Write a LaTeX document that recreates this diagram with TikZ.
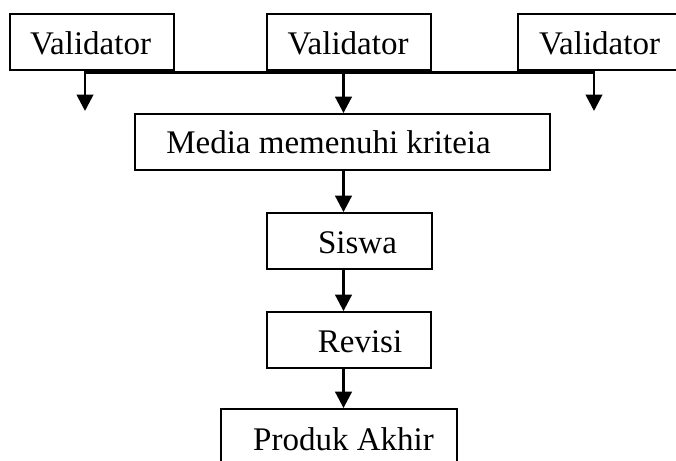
\documentclass[tikz,border=0pt]{standalone}
\usepackage{fontspec}
\setmainfont{Liberation Serif}
\usetikzlibrary{arrows.meta,calc}
\begin{document}
\begin{tikzpicture}[x=1pt,y=-1pt,
  box/.style={draw,line width=1.8pt,minimum height=56pt,inner sep=0pt},
  txt/.style={anchor=base,inner sep=0pt,font=\fontsize{33}{40}\selectfont},
  arr/.style={line width=2.8pt,-{Triangle[width=16.5pt,length=16.5pt]}},
  hline/.style={line width=2.2pt,line cap=rect}]
\clip (0,0) rectangle (676,460);
% boxes
\node[box,minimum width=164pt] (v1) at (92,42) {};
\node[box,minimum width=164pt] (v2) at (349,42) {};
\node[box,minimum width=164pt] (v3) at (600,42) {};
\node[box,minimum width=415pt] (media) at (342.5,142) {};
\node[box,minimum width=165pt] (siswa) at (349.5,241) {};
\node[box,minimum width=164pt] (revisi) at (349,340) {};
\node[box,minimum width=236pt] (produk) at (339,437) {};
% texts
\node[txt] (tv1) at (90.5,55) {Validator};
\node[txt] (tv2) at (348,55) {Validator};
\node[txt] (tv3) at (599.5,55) {Validator};
\node[txt] (tmedia) at (328.5,153) {Media memenuhi kriteia};
\node[txt] (tsiswa) at (357.5,253) {Siswa};
\node[txt] (trevisi) at (360,352) {Revisi};
\node[txt] (tproduk) at (343.5,450) {Produk Akhir};
% connectors
\coordinate (j1) at (85,72.5);
\coordinate (j2) at (343.5,72.5);
\coordinate (j3) at (594,72.5);
\coordinate (e1) at (85,111);
\coordinate (e3) at (594,111);
\coordinate (ax) at (343.5,0);
\draw[hline] (j1) -- (j3);
\draw[arr] (j1) -- (e1);
\draw[arr] (j3) -- (e3);
\draw[arr] (j2) -- (media.north -| ax);
\draw[arr] (media.south -| ax) -- (siswa.north -| ax);
\draw[arr] (siswa.south -| ax) -- (revisi.north -| ax);
\draw[arr] (revisi.south -| ax) -- (produk.north -| ax);
\end{tikzpicture}
\end{document}
